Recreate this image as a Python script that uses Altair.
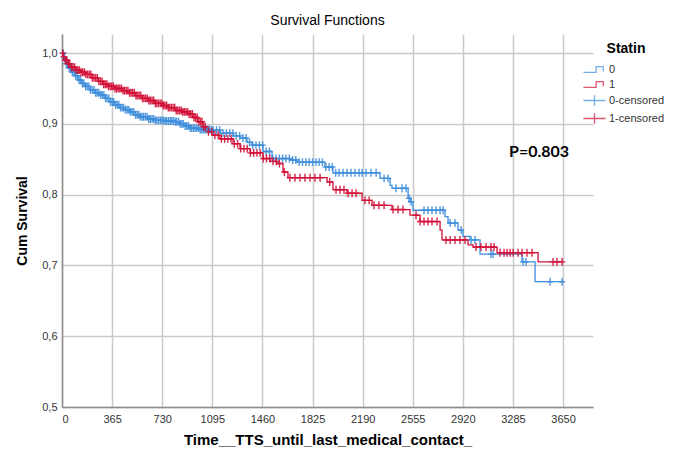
import altair as alt
import pandas as pd
import numpy as np

# ---- Kaplan-Meier step curves (time in days, cumulative survival) ----
t0 = [0, 15, 29, 44, 66, 95, 117, 146, 168, 204, 240, 277, 313, 350, 386, 423, 459, 495, 532, 568,
      627, 678, 750, 823, 860, 896, 932, 1005, 1078, 1151, 1246, 1297, 1348, 1384, 1464, 1530, 1661,
      1712, 1916, 1974, 2317, 2390, 2404, 2521, 2535, 2557, 2790, 2812, 2885, 2921, 2972, 3045, 3351,
      3446, 3650]
s0 = [1.0, 0.993, 0.985, 0.979, 0.973, 0.968, 0.962, 0.957, 0.953, 0.948, 0.944, 0.941, 0.936, 0.931,
      0.927, 0.923, 0.920, 0.917, 0.913, 0.910, 0.907, 0.905, 0.904, 0.903, 0.900, 0.897, 0.894, 0.892,
      0.891, 0.887, 0.883, 0.880, 0.874, 0.870, 0.861, 0.851, 0.849, 0.846, 0.839, 0.831, 0.823, 0.813,
      0.809, 0.795, 0.790, 0.778, 0.769, 0.760, 0.750, 0.741, 0.736, 0.716, 0.705, 0.677, 0.677]

t1 = [0, 7, 22, 44, 66, 95, 131, 168, 219, 262, 299, 335, 386, 437, 481, 532, 583, 627, 678, 729, 772,
      823, 874, 918, 954, 991, 1027, 1064, 1100, 1151, 1246, 1297, 1370, 1464, 1515, 1566, 1610, 1646,
      1931, 1974, 2076, 2186, 2258, 2404, 2535, 2608, 2754, 2768, 2958, 2994, 3169, 3468, 3650]
s1 = [1.0, 0.995, 0.990, 0.985, 0.980, 0.976, 0.973, 0.970, 0.965, 0.960, 0.956, 0.953, 0.950, 0.947,
      0.944, 0.940, 0.936, 0.933, 0.929, 0.926, 0.923, 0.919, 0.917, 0.914, 0.909, 0.903, 0.896, 0.889,
      0.884, 0.879, 0.872, 0.865, 0.859, 0.851, 0.847, 0.844, 0.832, 0.824, 0.818, 0.807, 0.802, 0.792,
      0.785, 0.779, 0.771, 0.762, 0.750, 0.736, 0.729, 0.726, 0.718, 0.705, 0.705]

# ---- censoring times ----
c0 = [9, 18, 30, 41, 52, 63, 75, 88, 100, 112, 124, 135, 148, 160, 172, 184, 195, 207, 220, 233, 245,
      256, 268, 281, 293, 305, 317, 328, 341, 354, 366, 377, 390, 402, 414, 426, 438, 449, 462, 475,
      487, 498, 510, 522, 535, 547, 559, 571, 583, 594, 607, 620, 632, 643, 656, 668, 680, 691, 704,
      716, 728, 740, 752, 763, 776, 789, 800, 812, 825, 836, 849, 861, 873, 884, 897, 909, 921, 933,
      945, 957, 969, 980, 993, 1006, 1018, 1029, 1041, 1053, 1065, 1077, 1089, 1101, 1126, 1149, 1173,
      1197, 1222, 1245, 1269, 1294, 1318, 1341, 1366, 1390, 1413, 1438, 1462, 1486, 1511, 1535, 1558,
      1583, 1607, 1631, 1656, 1680, 1703, 1728, 1752, 1777, 1801, 1825, 1850, 1873, 1897, 1922, 1946,
      1969, 1994, 2018,
      2047, 2076, 2105, 2134, 2164, 2186, 2215, 2251, 2288, 2346, 2375, 2433, 2477, 2506, 2528, 2543,
      2637, 2666, 2695, 2725, 2754, 2776, 2827, 2863, 2907, 2980, 3009, 3125, 3140, 3358, 3380, 3555,
      3643]
c1 = [5, 12, 24, 35, 46, 57, 69, 80, 92, 104, 116, 127, 139, 151, 163, 174, 186, 198, 210, 221, 233,
      245, 257, 268, 280, 292, 304, 315, 327, 339, 351, 362, 374, 386, 398, 409, 421, 433, 445, 456,
      468, 480, 492, 503, 515, 527, 539, 550, 562, 574, 586, 597, 609, 621, 633, 644, 656, 668, 680,
      691, 703, 715, 727, 738, 750, 762, 774, 785, 797, 809, 821, 832, 844, 856, 868, 879, 891, 903,
      915, 926, 938, 950, 962, 973, 985, 997, 1009, 1020, 1032, 1044, 1067, 1091, 1114, 1138, 1161,
      1185, 1208, 1232, 1255, 1279, 1302, 1326, 1349, 1373, 1396, 1420, 1443, 1467, 1490, 1514, 1537,
      1561, 1584, 1620, 1660, 1697, 1734, 1770, 1807, 1843, 1880, 1950, 1996, 2025, 2054, 2084, 2113,
      2142, 2207, 2237, 2273, 2309, 2346, 2411, 2448, 2484, 2579, 2608, 2637, 2666, 2695, 2732, 2797,
      2827, 2863, 2899, 2936, 3016, 3052, 3089, 3125, 3147, 3191, 3220, 3242, 3264, 3286, 3322, 3351,
      3387, 3424, 3577, 3606, 3643]

x_ticks = [0, 365, 730, 1095, 1460, 1825, 2190, 2555, 2920, 3285, 3650]
y_ticks = [0.5, 0.6, 0.7, 0.8, 0.9, 1.0]
groups = ["0", "1"]
series_names = ["0", "1", "0-censored", "1-censored"]
blue = "#3F8EDC"
red = "#D20F36"
p_label = ["P=0.803"]
p_x = [3475]
p_y = [0.860]

# ---- build tables ----
steps = pd.concat([
    pd.DataFrame({"time": t0, "surv": s0, "group": "0"}),
    pd.DataFrame({"time": t1, "surv": s1, "group": "1"}),
], ignore_index=True)


def cens_rows(ct, tt, ss, g):
    tt = np.asarray(tt)
    idx = np.searchsorted(tt, np.asarray(ct), side="right") - 1
    return pd.DataFrame({"time": ct, "surv": np.asarray(ss)[idx], "group": g})


cens = pd.concat([cens_rows(c0, t0, s0, "0"), cens_rows(c1, t1, s1, "1")], ignore_index=True)
legend_df = pd.DataFrame({"series": series_names})
ptext = pd.DataFrame({"x": p_x, "y": p_y, "label": p_label})

x_enc = alt.X("time:Q", scale=alt.Scale(domain=[0, 3868], nice=False, zero=False),
              axis=alt.Axis(values=x_ticks, format="d", title="Time__TTS_until_last_medical_contact_",
                            labelPadding=6, titlePadding=8, titleFontSize=15))
y_enc = alt.Y("surv:Q", scale=alt.Scale(domain=[0.5, 1.027], nice=False, zero=False),
              axis=alt.Axis(values=y_ticks, title="Cum Survival",
                            labelExpr="replace(format(datum.value, '.1f'), '.', ',')",
                            labelPadding=5, titlePadding=12))

stroke_scale = alt.Scale(domain=groups, range=[blue, red])

lines = alt.Chart(steps).mark_line(interpolate="step-after", strokeWidth=1.3).encode(
    x=x_enc, y=y_enc,
    stroke=alt.Stroke("group:N", scale=stroke_scale, legend=None),
    detail="group:N",
)

plus_plot = "M-1,0L1,0M0,-1.25L0,1.25"
marks = alt.Chart(cens).mark_point(shape=plus_plot, filled=False, size=40, strokeWidth=1.4,
                                   opacity=0.9).encode(
    x="time:Q", y="surv:Q",
    stroke=alt.Stroke("group:N", scale=stroke_scale, legend=None),
)

step_path = "M-1.7,0.45L0.25,0.45L0.25,-0.45L1.35,-0.45L1.35,0.3"
plus_leg = "M-1.7,0L1.7,0M0,-0.8L0,0.8"
leg = alt.Legend(title="Statin", orient="none", legendX=525, legendY=8,
                 symbolSize=169, symbolStrokeWidth=1.3, labelOffset=7,
                 labelFont="Liberation Sans", labelFontSize=11, labelColor="#333333",
                 titleFont="Liberation Sans", titleFontSize=14, titleFontWeight="bold",
                 titleColor="black", titlePadding=6, rowPadding=1, titleAnchor="middle")
legend_layer = alt.Chart(legend_df).mark_point(filled=False, strokeWidth=1.3).encode(
    color=alt.Color("series:N", scale=alt.Scale(domain=series_names, range=[blue, red, blue, red]),
                    legend=leg),
    shape=alt.Shape("series:N", scale=alt.Scale(domain=series_names,
                                                range=[step_path, step_path, plus_leg, plus_leg]),
                    legend=leg),
).transform_filter("datum.series == 'none'")

ptxt = alt.Chart(ptext).mark_text(font="Lato", fontWeight="bold", fontSize=16, color="black").encode(
    x="x:Q", y="y:Q", text="label:N")

chart = alt.layer(lines, marks, ptxt, legend_layer).properties(
    width=531, height=373,
    title=alt.TitleParams("Survival Functions", fontSize=14, font="Liberation Sans",
                          fontWeight="normal", anchor="middle", offset=6, color="black"),
    autosize=alt.AutoSizeParams(type="none"),
    padding={"left": 54, "top": 26, "right": 75, "bottom": 40},
).configure_view(stroke=None).configure_axis(
    grid=True, gridColor="#c9c9c9", gridWidth=1.5, domainColor="#8c8c8c", domainWidth=1.5,
    ticks=False, labelFont="Liberation Sans", labelFontSize=11, labelColor="#333333",
    titleFont="Liberation Sans", titleFontSize=14, titleFontWeight="bold", titleColor="black",
)

chart.save("out.html", embed_options={"renderer": "svg", "actions": False})
